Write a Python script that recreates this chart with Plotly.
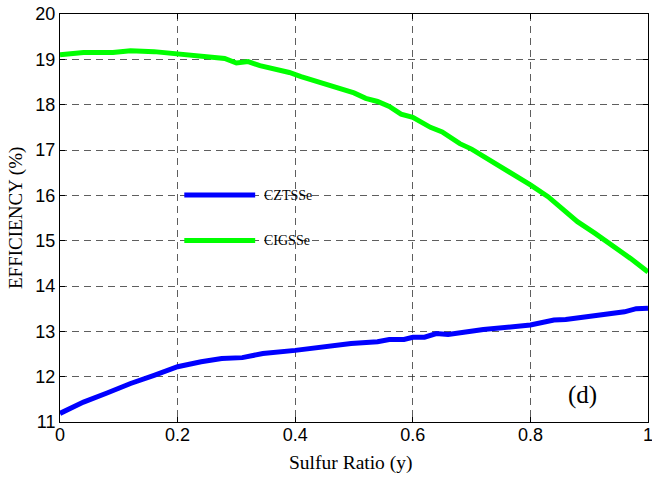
import plotly.graph_objects as go

# CIGSSe (green) data
cig_x = [0, 0.04, 0.09, 0.12, 0.16, 0.20, 0.25, 0.28, 0.30, 0.32, 0.34, 0.36, 0.39, 0.41,
         0.44, 0.46, 0.50, 0.52, 0.54, 0.56, 0.58, 0.60, 0.63, 0.65, 0.68, 0.70, 0.74,
         0.76, 0.80, 0.83, 0.855, 0.88, 0.91, 0.94, 0.97, 1.0]
cig_y = [19.10, 19.15, 19.15, 19.19, 19.17, 19.12, 19.06, 19.02, 18.92, 18.95, 18.86, 18.80,
         18.71, 18.62, 18.50, 18.43, 18.26, 18.14, 18.07, 17.96, 17.79, 17.72, 17.50, 17.40,
         17.14, 17.02, 16.71, 16.56, 16.23, 15.97, 15.71, 15.42, 15.16, 14.90, 14.61, 14.31]

# CZTSSe (blue) data
czt_x = [0, 0.04, 0.08, 0.12, 0.16, 0.20, 0.24, 0.275, 0.31, 0.345, 0.40, 0.445, 0.495,
         0.54, 0.56, 0.585, 0.60, 0.62, 0.64, 0.66, 0.72, 0.80, 0.84, 0.86, 0.92, 0.96,
         0.98, 1.0]
czt_y = [11.19, 11.44, 11.64, 11.85, 12.03, 12.22, 12.33, 12.40, 12.42, 12.51, 12.58, 12.66,
         12.73, 12.77, 12.82, 12.82, 12.87, 12.87, 12.95, 12.93, 13.04, 13.14, 13.25, 13.26,
         13.36, 13.43, 13.50, 13.51]

x_ticks = [0, 0.2, 0.4, 0.6, 0.8, 1.0]
x_tick_labels = ["0", "0.2", "0.4", "0.6", "0.8", "1"]
y_ticks = [11, 12, 13, 14, 15, 16, 17, 18, 19, 20]

series = [("CZTSSe", czt_x, czt_y, "#0000FF"), ("CIGSSe", cig_x, cig_y, "#00FF00")]

fig = go.Figure()
for name, xs, ys, col in series:
    fig.add_trace(go.Scatter(x=xs, y=ys, mode="lines", name=name,
                             line=dict(color=col, width=5), showlegend=False))

W, H = 652, 479
L, R, T, B = 59.5, 3.5, 14, 57
pw, ph = W - L - R, H - T - B

def px_to_paper_x(px):
    return (px - L) / pw

def px_to_paper_y(py):
    return (H - B - py) / ph

serif = "Liberation Serif, Times New Roman, serif"
sans = "Liberation Sans, Arial, sans-serif"

# manual legend
leg_rows = [(195, series[0]), (240.5, series[1])]
for py, (name, xs, ys, col) in leg_rows:
    fig.add_shape(type="line", xref="paper", yref="paper",
                  x0=px_to_paper_x(184), x1=px_to_paper_x(255),
                  y0=px_to_paper_y(py), y1=px_to_paper_y(py),
                  line=dict(color=col, width=5))
    fig.add_annotation(xref="paper", yref="paper", x=px_to_paper_x(262), y=px_to_paper_y(py),
                       text=name, showarrow=False, xanchor="left", yanchor="middle",
                       font=dict(family=serif, size=14, color="black"))

fig.add_annotation(xref="paper", yref="paper", x=px_to_paper_x(583), y=px_to_paper_y(395),
                   text="(d)", showarrow=False, xanchor="center", yanchor="middle",
                   font=dict(family=serif, size=25, color="black"))

fig.add_annotation(xref="paper", yref="paper", x=px_to_paper_x(350), y=0, yshift=-41,
                   text="Sulfur Ratio (y)", showarrow=False, xanchor="center", yanchor="middle",
                   font=dict(family=serif, size=19.5, color="black"))
fig.add_annotation(xref="paper", yref="paper", x=0, xshift=-44, y=0.5,
                   text="EFFICIENCY (%)", showarrow=False, textangle=-90,
                   xanchor="center", yanchor="middle",
                   font=dict(family=serif, size=19, color="black"))

axis_common = dict(showline=True, linecolor="black", linewidth=1, mirror="allticks",
                   ticks="inside", ticklen=5, tickcolor="black",
                   showgrid=True, gridcolor="rgba(40,40,40,0.75)", gridwidth=1,
                   griddash="7px,5px", zeroline=False, ticklabeloverflow="allow",
                   automargin=False,
                   tickfont=dict(family=sans, size=18, color="black"))

fig.update_xaxes(range=[0, 1], tickvals=x_ticks, ticktext=x_tick_labels,
                 ticklabelstandoff=-4, **axis_common)
fig.update_yaxes(range=[11, 20], tickvals=y_ticks, **axis_common)

fig.update_layout(width=W, height=H, margin=dict(l=L, r=R, t=T, b=B),
                  paper_bgcolor="white", plot_bgcolor="white", showlegend=False)

fig.write_html("out.html")
